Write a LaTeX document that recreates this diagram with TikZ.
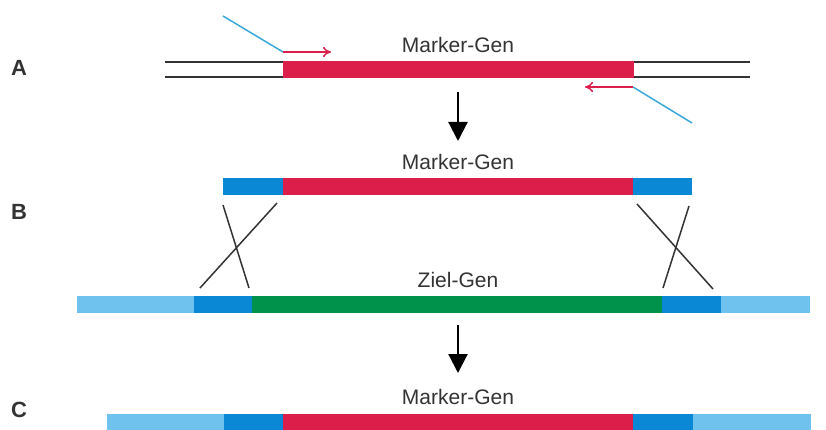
\documentclass[tikz,border=0pt]{standalone}
\usepackage{fontspec}
\setmainfont{Liberation Sans}
\usetikzlibrary{arrows.meta}
\definecolor{cred}{HTML}{DC1E4A}
\definecolor{cblue}{HTML}{0A88D6}
\definecolor{clight}{HTML}{70C2EE}
\definecolor{cgreen}{HTML}{00924A}
\definecolor{cprimer}{HTML}{3AA8DA}
\definecolor{ctext}{HTML}{333333}
\begin{document}
\begin{tikzpicture}[x=1pt,y=-1pt,
  seg/.style={draw=none,inner sep=0pt,outer sep=0pt,anchor=north west},
  lab/.style={text=ctext,font=\fontsize{21}{24}\selectfont,inner sep=0pt},
  letter/.style={text=ctext,font=\bfseries\fontsize{22}{26}\selectfont,inner sep=0pt},
  strand/.style={draw=ctext,line width=1.6pt},
  cross/.style={draw=ctext,line width=1.5pt},
  primer/.style={draw=cprimer,line width=1.5pt},
  parrow/.style={draw=cred,line width=1.5pt,-{To[length=8pt,width=10pt]}},
  step arrow/.style={draw=black,line width=2.2pt,-{Triangle[length=19pt,width=19pt]}}
]
\useasboundingbox (0,0) rectangle (826,430);

% letters
\node[letter] (A) at (19,68) {A};
\node[letter] (B) at (19,212) {B};
\node[letter] (C) at (19,410) {C};

% ---- A ----
\coordinate (sl) at (165,62);
\coordinate (sr) at (750,62);
\coordinate (sl2) at (165,77);
\coordinate (sr2) at (750,77);
\draw[strand] (sl) -- (sr);
\draw[strand] (sl2) -- (sr2);
\node[seg,fill=cred,minimum width=351,minimum height=17] (redA) at (283,61.2) {};
\node[lab] (labA) at (458,45) {Marker-Gen};
% primers
\coordinate (p1s) at (223,16);
\coordinate (p1k) at (283,52);
\coordinate (p1e) at (331,52);
\draw[primer] (p1s) -- (p1k);
\draw[parrow] (p1k) -- (p1e);
\coordinate (p2s) at (692,123);
\coordinate (p2k) at (633,87);
\coordinate (p2e) at (585,87);
\draw[primer] (p2s) -- (p2k);
\draw[parrow] (p2k) -- (p2e);

% arrow A->B
\coordinate (a1s) at (458,92);
\coordinate (a1e) at (458,141);
\draw[step arrow] (a1s) -- (a1e);

% ---- B ----
\node[lab] (labB) at (458,162) {Marker-Gen};
\node[seg,fill=cblue,minimum width=61,minimum height=17] (bl) at (223,178) {};
\node[seg,fill=cred,minimum width=351,minimum height=17] (br) at (283,178) {};
\node[seg,fill=cblue,minimum width=59,minimum height=17] (bR) at (633,178) {};

\coordinate (x1a) at (223,205);
\coordinate (x1b) at (249,288);
\coordinate (x2a) at (277,203);
\coordinate (x2b) at (200,288);
\coordinate (x3a) at (637,204);
\coordinate (x3b) at (713,289);
\coordinate (x4a) at (689,206);
\coordinate (x4b) at (663,288);
\draw[cross] (x1a) -- (x1b);
\draw[cross] (x2a) -- (x2b);
\draw[cross] (x3a) -- (x3b);
\draw[cross] (x4a) -- (x4b);

\node[lab] (labZ) at (458,280) {Ziel-Gen};
\node[seg,fill=clight,minimum width=118,minimum height=17] (z1) at (77,296) {};
\node[seg,fill=cblue,minimum width=59,minimum height=17] (z2) at (194,296) {};
\node[seg,fill=cgreen,minimum width=411,minimum height=17] (z3) at (252,296) {};
\node[seg,fill=cblue,minimum width=59,minimum height=17] (z4) at (662,296) {};
\node[seg,fill=clight,minimum width=89,minimum height=17] (z5) at (721,296) {};

% arrow B->C
\coordinate (a2s) at (458,325);
\coordinate (a2e) at (458,373);
\draw[step arrow] (a2s) -- (a2e);

% ---- C ----
\node[lab] (labC) at (458,397) {Marker-Gen};
\node[seg,fill=clight,minimum width=118,minimum height=17] (c1) at (107,414) {};
\node[seg,fill=cblue,minimum width=60,minimum height=17] (c2) at (224,414) {};
\node[seg,fill=cred,minimum width=351,minimum height=17] (c3) at (283,414) {};
\node[seg,fill=cblue,minimum width=61,minimum height=17] (c4) at (633,414) {};
\node[seg,fill=clight,minimum width=118,minimum height=17] (c5) at (693,414) {};
\end{tikzpicture}
\end{document}
